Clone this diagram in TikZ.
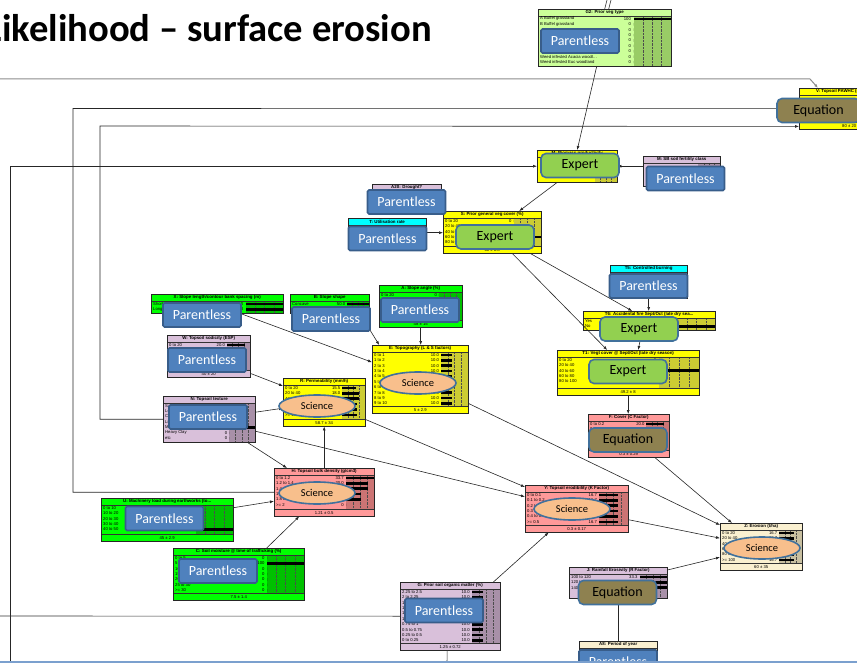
\documentclass[tikz,border=0pt]{standalone}
\usepackage{fontspec}
\setmainfont{Carlito}
\newfontfamily\netfont{Liberation Sans}
\usepackage{tikz}
\usetikzlibrary{arrows.meta,positioning,calc,shapes.geometric}

\definecolor{netyellow}{HTML}{FFFF00}
\definecolor{netyellowbar}{HTML}{CCCC33}
\definecolor{netgreen}{HTML}{00FF00}
\definecolor{netgreenbar}{HTML}{00C000}
\definecolor{netlgreen}{HTML}{CCFF99}
\definecolor{netlgreenbar}{HTML}{99CC66}
\definecolor{netlilac}{HTML}{D9C0DA}
\definecolor{netlilacbar}{HTML}{A890A8}
\definecolor{netpink}{HTML}{FF9999}
\definecolor{netpinkbar}{HTML}{CC7474}
\definecolor{netcyan}{HTML}{00FFFF}
\definecolor{netcyanbar}{HTML}{00CCCC}
\definecolor{netbeige}{HTML}{FAF0D0}
\definecolor{netbeigebar}{HTML}{C8BFA0}
\definecolor{plessfill}{HTML}{4F81BD}
\definecolor{plessdraw}{HTML}{385D8A}
\definecolor{expfill}{HTML}{92D050}
\definecolor{ovldraw}{HTML}{41719C}
\definecolor{eqfill}{HTML}{8E8150}
\definecolor{scifill}{HTML}{F8BF8C}

% Netica-like box: name, x, y, width, height, colour, title, footer, rows
\newcommand{\netbox}[9]{%
  \node[netbox, fill=#6, minimum width=#4pt, minimum height=#5pt] (#1) at (#2,#3) {};
  \def\netfoot{#8}\def\netrows{#9}%
  \ifx\netfoot\empty\def\netlow{0}\else\def\netlow{7}\fi
  \fill[#6bar] ($(#1.north west)+(0.72*#4,7)$) rectangle ($(#1.south east)+(0,-\netlow)$);
  \foreach \g in {0.79,0.86,0.93}
    \draw[densely dotted, black!70] ($(#1.north west)+(\g*#4,7)$) -- ($(#1.south west)+(\g*#4,-\netlow)$);
  \draw[black!80, line width=0.4pt] ($(#1.north west)+(0,7)$) -- ($(#1.north east)+(0,7)$);
  \node[nettitle] at ($(#1.north)+(0,3.6)$) {#7};
  \ifx\netrows\empty\else
  \foreach \lab/\val [count=\i] in \netrows {
    \node[netrow, anchor=west] at ($(#1.north west)+(2,4.5+\i*5.4)$) {\lab};
    \node[netrow, anchor=east] at ($(#1.north west)+(0.7*#4,4.5+\i*5.4)$) {\val};
    \pgfmathsetmacro\netbar{min(\val*4,100)/100*0.28*#4}
    \fill[black] ($(#1.north west)+(0.72*#4,3.2+\i*5.4)$) rectangle ++(\netbar,2.6);
  }
  \fi
  \ifx\netfoot\empty\else
    \draw[black!80, line width=0.4pt] ($(#1.south west)+(0,-7)$) -- ($(#1.south east)+(0,-7)$);
    \node[netrow] at ($(#1.south)+(0,-3.5)$) {#8};
  \fi
  \draw[black!85, line width=0.7pt] (#1.north west) rectangle (#1.south east);
}

\begin{document}
\begin{tikzpicture}[x=1pt, y=-1pt,
    netbox/.style={rectangle, inner sep=0pt, anchor=north west},
    nettitle/.style={font=\netfont\bfseries\fontsize{4.4}{5}\selectfont, inner sep=0pt},
    netrow/.style={font=\netfont\fontsize{4.2}{5}\selectfont, inner sep=0pt},
    ovl/.style={rectangle, line width=1.6pt, minimum width=78pt, minimum height=24pt, inner sep=0pt, font=\fontsize{14}{14}\selectfont},
    pless/.style={ovl, fill=plessfill, draw=plessdraw, text=white, rounded corners=1.5pt},
    expert/.style={ovl, fill=expfill, draw=ovldraw, rounded corners=5pt},
    equation/.style={ovl, fill=eqfill, draw=ovldraw, rounded corners=5pt},
    science/.style={ellipse, fill=scifill, draw=ovldraw, line width=1.6pt, minimum width=76pt, minimum height=22pt, inner sep=0pt, font=\fontsize{10.5}{11}\selectfont},
    arrow/.style={-{Latex[length=4pt,width=3pt]}, draw=black!85, line width=0.6pt},
    link/.style={draw=black!80, line width=0.6pt}
]
    \useasboundingbox (0,0) rectangle (857,663);

    % --- TITLE ---
    \node[font=\bfseries\fontsize{38.6}{40}\selectfont, anchor=base east, inner sep=0pt] (title) at (432,42) {Likelihood – surface erosion};

    % --- NETICA NODES ---
    \netbox{G2}{538}{9}{133}{57}{netlgreen}{G2: Prior veg type}{}{A Buffel grassland/100, B Buffel grassland/0, /0, /0, /0, Buffel infested Eucalypt woodland/0, Buffel infested Acacia woodl…/0, Weed infested Acacia woodl…/0, Weed infested Euc woodland/0}
    \netbox{Bio}{537}{150}{80}{32}{netyellow}{M: Biomass productivity}{}{}
    \netbox{MSoil}{643}{156}{77}{30}{netlilac}{M: SB soil fertility class}{}{}
    \netbox{A20}{372}{184}{69}{26}{netlilac}{A20: Drought?}{}{}
    \netbox{T}{348}{218}{78}{29}{netcyan}{T: Utilisation rate}{}{}
    \netbox{S}{443}{211}{98}{42}{netyellow}{S: Prior general veg cover (\%)}{60 ± 6.8}{0 to 20/0, 20 to 40/0, 40 to 60/0, 60 to 80/100, 80 to 100/0}
    \netbox{T5}{610}{265}{77}{33}{netcyan}{T5: Controlled burning}{}{}
    \netbox{T6}{583}{311}{132}{19}{netyellow}{T6: Accidental fire Sept/Oct (late dry sea...}{}{Yes/0, No/100}
    \netbox{T1}{557}{350}{142}{45}{netyellow}{T1: Vegt cover @ Sept/Oct (late dry season)}{49.2 ± 8}{0 to 20/0, 20 to 40/0, 40 to 60/100, 60 to 80/0, 80 to 100/0}
    \netbox{F}{588}{414}{81}{43}{netpink}{F: Cover (C Factor)}{0.3 ± 0.29}{0 to 0.2/20.0, 0.2 to 0.4/20.0, 0.4 to 0.6/20.0, 0.6 to 0.8/20.0, 0.8 to 1/20.0}
    \netbox{X}{151}{294}{132}{19}{netgreen}{X: Slope length/contour bank spacing (m)}{}{Short/50.0, Long/50.0}
    \netbox{B}{290}{294}{79}{19}{netgreen}{B: Slope shape}{}{Concave/50.0, Convex/50.0}
    \netbox{A}{379}{285}{83}{42}{netgreen}{A: Slope angle (\%)}{48 ± 15}{0 to 20/0, /0, /0, /0, /0}
    \netbox{W}{167}{335}{83}{42}{netlilac}{W: Topsoil sodicity (ESP)}{40 ± 20}{0 to 20/20.0, /20.0, /20.0, /20.0, /20.0}
    \netbox{E}{372}{345}{96}{68}{netyellow}{E: Topography (L \& S factors)}{5 ± 2.9}{0 to 1/10.0, 1 to 2/10.0, 2 to 3/10.0, 3 to 4/10.0, 4 to 5/10.0, 5 to 6/10.0, 6 to 7/10.0, 7 to 8/10.0, 8 to 9/10.0, 9 to 10/10.0}
    \netbox{R}{283}{378}{82}{48}{netyellow}{R: Permeability (mm/h)}{58.7 ± 34}{0 to 20/15.5, 20 to 40/18.0, 40 to 60/18.0, 60 to 80/16.0, 80 to 100/16.0, >= 100/16.5}
    \netbox{N}{163}{396}{92}{46}{netlilac}{N: Topsoil texture}{}{Sand/0, Loam/0, Clay loam/0, Light clay/0, Medium Clay/100, Heavy Clay/0, etc/0}
    \netbox{H}{274}{468}{100}{48}{netpink}{H: Topsoil bulk density (g/cm3)}{1.21 ± 0.5}{0 to 1.2/33.7, 1.2 to 1.4/20.0, 1.4 to 1.6/20.0, 1.6 to 1.8/13.0, 1.8 to 2/13.3, >= 2/0}
    \netbox{U}{101}{498}{132}{43}{netgreen}{U: Machinery load during earthworks (to...}{45 ± 2.9}{0 to 10/0, 10 to 20/0, 20 to 30/0, 30 to 40/0, 40 to 50/100}
    \netbox{C}{173}{548}{131}{52}{netgreen}{C: Soil moisture @ time of trafficking (\%)}{7.5 ± 1.4}{0 to 5/0, 5 to 10/100, 10 to 15/0, 15 to 20/0, 20 to 25/0, 25 to 30/0, >= 30/0}
    \netbox{Y}{525}{485}{103}{47}{netpink}{Y: Topsoil erodibility (K Factor)}{0.3 ± 0.17}{0 to 0.1/16.7, 0.1 to 0.2/16.7, 0.2 to 0.3/16.7, 0.3 to 0.4/16.7, 0.4 to 0.5/16.7, >= 0.5/16.7}
    \netbox{G}{400}{582}{100}{68}{netlilac}{G: Prior soil organic matter (\%)}{1.25 ± 0.72}{2.25 to 2.5/10.0, 2 to 2.25/10.0, 1.75 to 2/10.0, 1.5 to 1.75/10.0, 1.25 to 1.5/10.0, 1 to 1.25/10.0, 0.75 to 1/10.0, 0.5 to 0.75/10.0, 0.25 to 0.5/10.0, 0 to 0.25/10.0}
    \netbox{J}{569}{567}{98}{31}{netlilac}{J: Rainfall Erosivity (R Factor)}{}{100 to 120/33.3, 120 to 140/33.3, 140 to 160/33.3}
    \netbox{A8}{579}{641}{78}{30}{netbeige}{A8: Period of year}{}{}
    \netbox{Z}{720}{523}{82}{47}{netbeige}{Z: Erosion (t/ha)}{60 ± 35}{0 to 20/16.7, 20 to 40/16.7, 40 to 60/16.7, 60 to 80/16.7, 80 to 100/16.7, >= 100/16.7}
    \netbox{V}{799}{88}{100}{41}{netyellow}{V: Topsoil PAWHC (mm/100mm)}{80 ± 20}{}

    % --- LINKS ---
    \coordinate (sepL) at (0,79);
    \coordinate (sepR) at (810,79);
    \draw[arrow, draw=black!45, line width=1pt] (sepL) -- (sepR) -- ([xshift=19pt]V.north west);
    \coordinate (g2inA) at (607,0);
    \coordinate (g2inB) at (611,0);
    \draw[link] (G2.north) -- (g2inA);
    \draw[link] ([xshift=4pt]G2.north) -- (g2inB);
    \coordinate (leftB) at (10,663);
    \draw[arrow] (leftB) |- (Bio.west);
    \draw[arrow] ([xshift=-8pt]G2.south) -- (Bio.north);
    \draw[arrow] (Bio.east -| MSoil.west) -- (Bio.east);
    \draw[arrow] ([xshift=-20pt]Bio.south) -- ([xshift=27pt]S.north);
    \draw[arrow] (T.east) -- (T.east -| S.west);
    \draw[arrow] ([xshift=20pt]S.south) -- ([xshift=-21pt]T1.north);
    \draw[arrow] ([xshift=38pt]S.south) -- ([xshift=-17pt]T6.north);
    \draw[arrow] (T5.south) -- (T5.south |- T6.north);
    \draw[arrow] ([xshift=-7pt]T6.south) -- ([xshift=10pt]T1.north);
    \draw[arrow] (T1.south) -- (T1.south |- F.north);
    \draw[arrow] ([xshift=26pt]F.south) -- ([xshift=12pt]Z.north west);
    \draw[arrow] ([xshift=23pt]X.south) -- ([yshift=17pt]E.west);
    \draw[arrow] ([xshift=30pt]B.south) -- ([xshift=-41pt]E.north);
    \draw[arrow] (A.south) -- (A.south |- E.north);
    \draw[arrow] ([yshift=4pt]W.south east) -- ([yshift=-8pt]R.north west);
    \draw[arrow] ([yshift=7pt]N.east) -- ([yshift=-6pt]R.west);
    \draw[arrow] ([xshift=-8pt]N.south east) -- ([xshift=13pt]H.north west);
    \draw[arrow] ([yshift=-12pt]N.east) -- ([yshift=12pt]Y.west);
    \draw[arrow] ([yshift=7pt]R.south east) -- ([yshift=-2pt]Y.north west);
    \draw[arrow] ([yshift=10pt]E.south east) -- ([yshift=-2pt]Z.north west);
    \draw[arrow] (H.north) -- (H.north |- R.south);
    \draw[arrow] ([yshift=12pt]U.east) -- ([yshift=-9pt]H.west);
    \draw[arrow] ([xshift=28pt]C.north) -- ([xshift=-25pt]H.south);
    \draw[arrow] (H.west) -| (73,108.5) -- (V.west);
    \draw[arrow] (N.west) -| (100,126) -- ([yshift=3pt]V.south west);
    \coordinate (leftG) at (0,616);
    \draw[link] (leftG) -- (G.west);
    \draw[arrow] ([xshift=-7pt]G.north east) -- ([xshift=-28pt]Y.south);
    \coordinate (botG) at (447,663);
    \draw[link] ([xshift=-3pt]G.south) -- (botG);
    \draw[arrow] ([yshift=-3pt]J.north east) -- ([yshift=-10.5pt]Z.west);
    \draw[arrow] (A8.north) -- (A8.north |- J.south);
    \draw[arrow] ([yshift=-11pt]Y.east) -- ([yshift=8.5pt]Z.west);

    % --- OVERLAY LABELS ---
    \node[pless] (G2p) at (580,41) {Parentless};
    \node[expert] (Biox) at (580,165.5) {Expert};
    \node[pless] (MSoilp) at (685.5,178.5) {Parentless};
    \node[pless] (A20p) at (406.5,202) {Parentless};
    \node[pless] (Tp) at (387.5,238.5) {Parentless};
    \node[expert] (Sx) at (495,237) {Expert};
    \node[pless] (T5p) at (648.5,286) {Parentless};
    \node[expert] (T6x) at (639,329) {Expert};
    \node[expert] (T1x) at (628,371.5) {Expert};
    \node[equation] (Fq) at (628,440) {Equation};
    \node[pless] (Xp) at (202,315) {Parentless};
    \node[pless] (Bp) at (331,319) {Parentless};
    \node[pless] (Ap) at (420,310) {Parentless};
    \node[pless] (Wp) at (207,360) {Parentless};
    \node[science] (Es) at (418,383) {Science};
    \node[science] (Rs) at (317,406) {Science};
    \node[pless] (Np) at (208,417) {Parentless};
    \node[science] (Hs) at (317,493) {Science};
    \node[pless] (Up) at (164.5,518.5) {Parentless};
    \node[pless] (Cp) at (218,571) {Parentless};
    \node[science] (Ys) at (572,509) {Science};
    \node[pless] (Gp) at (444,610.5) {Parentless};
    \node[equation] (Jq) at (617.5,592.5) {Equation};
    \node[pless] (A8p) at (618,662) {Parentless};
    \node[science] (Zs) at (762,548) {Science};
    \node[equation, minimum width=83pt] (Vq) at (818.5,110.5) {Equation};

    % footer band
    \fill[plessfill!75] (0,660.5) rectangle (857,663);
\end{tikzpicture}
\end{document}
